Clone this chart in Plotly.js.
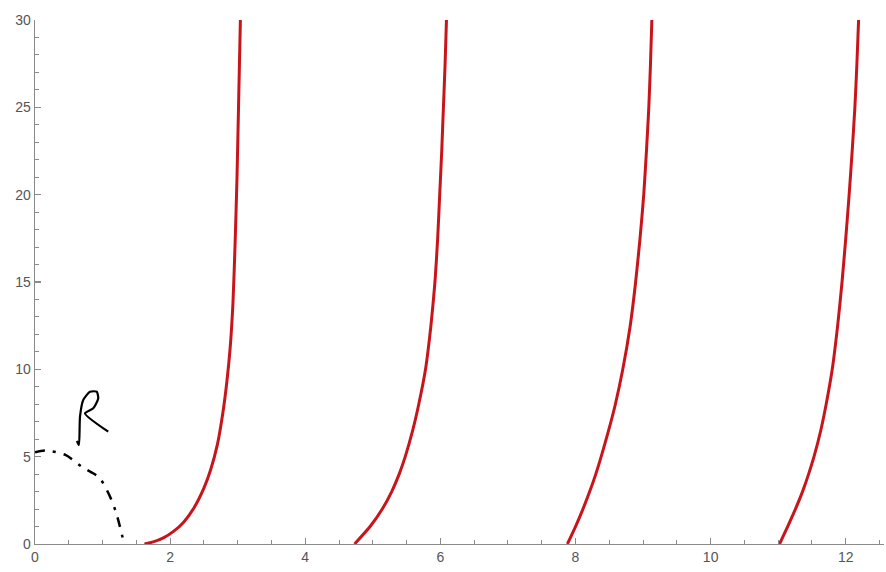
<!DOCTYPE html>
<html>
<head>
<meta charset="utf-8">
<script src="https://cdn.plot.ly/plotly-3.0.1.min.js"></script>
<style>
html,body{margin:0;padding:0;background:#fff;}
#chart{width:886px;height:572px;}
</style>
</head>
<body>
<div id="chart"></div>
<script>
// Red curve branches
const branch1X = [1.62, 1.75, 1.90, 2.05, 2.20, 2.35, 2.50, 2.60, 2.70, 2.78, 2.84, 2.89, 2.93, 2.96, 2.99, 3.015, 3.04];
const branch1Y = [0, 0.12, 0.35, 0.72, 1.25, 2.05, 3.2, 4.25, 5.7, 7.5, 9.3, 11.3, 13.8, 17, 21, 25.5, 30];
const branch2X = [4.73, 4.96, 5.14, 5.28, 5.39, 5.48, 5.59, 5.68, 5.78, 5.86, 5.92, 5.96, 5.99, 6.02, 6.045, 6.07, 6.09];
const branch2Y = [0, 1, 2, 3, 4, 5, 6.5, 8, 10, 12.5, 15, 17.5, 20, 22.5, 25, 27.5, 30];
const branch3X = [7.88, 8.00, 8.11, 8.21, 8.30, 8.38, 8.49, 8.59, 8.70, 8.81, 8.89, 8.955, 9.01, 9.05, 9.085, 9.11, 9.13];
const branch3Y = [0, 1, 2, 3, 4, 5, 6.5, 8, 10, 12.5, 15, 17.5, 20, 22.5, 25, 27.5, 30];
const branch4X = [11.02, 11.14, 11.255, 11.36, 11.45, 11.53, 11.63, 11.71, 11.80, 11.88, 11.945, 12.00, 12.05, 12.095, 12.135, 12.165, 12.19];
const branch4Y = [0, 1, 2, 3, 4, 5, 6.5, 8, 10, 12.5, 15, 17.5, 20, 22.5, 25, 27.5, 30];

// Hand-drawn annotation: dash-dot curve and letter "R"
const sketchX = [0.0, 0.15, 0.45, 0.7, 0.95, 1.1, 1.2, 1.32];
const sketchY = [5.25, 5.35, 5.1, 4.4, 3.8, 2.8, 1.8, 0];
const letterX = [0.62, 0.65, 0.666, 0.714, 0.814, 0.913, 0.936, 0.862, 0.74, 1.084];
const letterY = [5.9, 5.67, 7.29, 8.24, 8.72, 8.72, 8.34, 7.77, 7.48, 6.43];

const xTicks = [0, 2, 4, 6, 8, 10, 12];
const yTicks = [0, 5, 10, 15, 20, 25, 30];

const red = {color: '#c8151b', width: 3, shape: 'spline', smoothing: 0.6};
const traces = [
  {x: branch1X, y: branch1Y, mode: 'lines', line: red},
  {x: branch2X, y: branch2Y, mode: 'lines', line: red},
  {x: branch3X, y: branch3Y, mode: 'lines', line: red},
  {x: branch4X, y: branch4Y, mode: 'lines', line: red},
  {x: sketchX, y: sketchY, mode: 'lines', line: {color: '#000', width: 2.5, dash: '10px,8px,3px,8px', shape: 'spline', smoothing: 0.8}},
  {x: letterX, y: letterY, mode: 'lines', line: {color: '#000', width: 2.2, shape: 'spline', smoothing: 0.6}}
];

const axisCommon = {
  showgrid: false, zeroline: false, showline: true,
  linecolor: '#8a8a8a', linewidth: 1.3,
  ticks: 'inside', ticklen: 6, tickwidth: 1.2, tickcolor: '#8a8a8a',
  tickfont: {family: 'Liberation Sans, Arial, sans-serif', size: 14, color: '#555'},
  fixedrange: true
};

const layout = {
  width: 886, height: 572,
  margin: {l: 35, r: 2, t: 20, b: 28},
  paper_bgcolor: '#fff', plot_bgcolor: '#fff',
  showlegend: false,
  xaxis: Object.assign({}, axisCommon, {
    range: [0, 12.566], tickvals: xTicks, ticktext: xTicks.map(String),
    minor: {tickvals: [0.5,1,1.5,2.5,3,3.5,4.5,5,5.5,6.5,7,7.5,8.5,9,9.5,10.5,11,11.5,12.5], ticks: 'inside', ticklen: 4, tickcolor: '#8a8a8a', tickwidth: 1}
  }),
  yaxis: Object.assign({}, axisCommon, {
    range: [0, 30], tickvals: yTicks, ticktext: yTicks.map(String),
    minor: {dtick: 1, ticks: 'inside', ticklen: 4, tickcolor: '#8a8a8a', tickwidth: 1}
  })
};

Plotly.newPlot('chart', traces, layout, {displayModeBar: false, staticPlot: true});
</script>
</body>
</html>
